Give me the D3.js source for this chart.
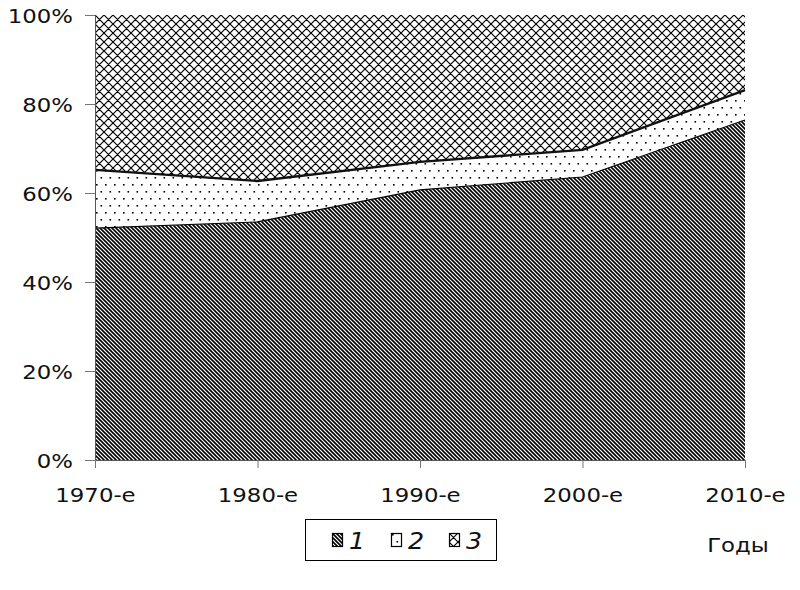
<!DOCTYPE html>
<html>
<head>
<meta charset="utf-8">
<script src="https://cdn.jsdelivr.net/npm/d3@7"></script>
<style>
  body { margin: 0; background: #fff; }
  text { font-family: "DejaVu Sans", Verdana, sans-serif; fill: #111; }
</style>
</head>
<body>
<div id="chart"></div>
<script>
// data: share of each group by decade (%)
var decades = ["1970-е", "1980-е", "1990-е", "2000-е", "2010-е"];
var series1 = [52.1, 53.5, 60.7, 63.6, 76.4];
var series2 = [13.1, 9.2, 6.3, 6.1, 6.7];
var series3 = [34.8, 37.3, 33.0, 30.3, 16.9];
var seriesNames = ["1", "2", "3"];
var yTicks = [0, 20, 40, 60, 80, 100];

var width = 800, height = 590;
var margin = { top: 15, right: 55, bottom: 130, left: 95 };
var innerW = width - margin.left - margin.right,
  innerH = height - margin.top - margin.bottom;

var svg = d3
  .select("#chart")
  .append("svg")
  .attr("width", width)
  .attr("height", height);

// fill patterns
var defs = svg.append("defs");
var p1 = defs.append("pattern").attr("id", "p1")
  .attr("patternUnits", "userSpaceOnUse").attr("width", 4).attr("height", 4);
p1.append("rect").attr("width", 4).attr("height", 4).attr("fill", "#fff");
p1.append("path").attr("d", "M-1,-1L5,5M-1,3L1,5M3,-1L5,1")
  .attr("stroke", "#000").attr("stroke-width", 1.6);

var p2 = defs.append("pattern").attr("id", "p2")
  .attr("patternUnits", "userSpaceOnUse").attr("width", 9).attr("height", 14);
p2.append("rect").attr("width", 9).attr("height", 14).attr("fill", "#fff");
p2.append("rect").attr("x", 1).attr("y", 1).attr("width", 1.6).attr("height", 1.6).attr("fill", "#000");
p2.append("rect").attr("x", 5.5).attr("y", 8).attr("width", 1.6).attr("height", 1.6).attr("fill", "#000");

var p3 = defs.append("pattern").attr("id", "p3")
  .attr("patternUnits", "userSpaceOnUse").attr("width", 9).attr("height", 9);
p3.append("rect").attr("width", 9).attr("height", 9).attr("fill", "#fff");
p3.append("path").attr("d", "M0,0L9,9M9,0L0,9M-1,8L1,10M8,-1L10,1M-1,1L1,-1M8,10L10,8")
  .attr("stroke", "#000").attr("stroke-width", 1.15);

var fills = ["url(#p1)", "url(#p2)", "url(#p3)"];

var g = svg.append("g")
  .attr("transform", "translate(" + margin.left + "," + margin.top + ")");

var x = d3.scalePoint().domain(decades).range([0, innerW]);
var y = d3.scaleLinear().domain([0, 100]).range([innerH, 0]);

var table = decades.map(function (d, i) {
  return { decade: d, s1: series1[i], s2: series2[i], s3: series3[i] };
});
var stacked = d3.stack().keys(["s1", "s2", "s3"])(table);

var area = d3.area()
  .x(function (d) { return x(d.data.decade); })
  .y0(function (d) { return y(d[0]); })
  .y1(function (d) { return y(d[1]); });

g.selectAll(".band")
  .data(stacked)
  .enter()
  .append("path")
  .attr("class", "band")
  .attr("fill", function (d, i) { return fills[i]; })
  .attr("d", area);

// boundary lines between bands
var topLine = d3.line()
  .x(function (d) { return x(d.data.decade); })
  .y(function (d) { return y(d[1]); });
g.append("path").datum(stacked[0]).attr("d", topLine)
  .attr("fill", "none").attr("stroke", "#000").attr("stroke-width", 1.2);
g.append("path").datum(stacked[1]).attr("d", topLine)
  .attr("fill", "none").attr("stroke", "#111").attr("stroke-width", 2.4);

// axes
var fontSize = 19.5, stretch = 1.17;

var yAxis = g.append("g").call(
  d3.axisLeft(y).tickValues(yTicks).tickSize(10).tickSizeOuter(0)
    .tickFormat(function (d) { return d + "%"; }));
yAxis.select(".domain").attr("stroke", "#555");
yAxis.selectAll(".tick line").attr("stroke", "#777");
yAxis.selectAll(".tick text")
  .attr("x", 0).attr("dy", null).attr("dominant-baseline", "central")
  .attr("transform", "translate(-22,1) scale(" + stretch + ",1)")
  .style("font-size", fontSize + "px").style("font-family", "DejaVu Sans")
  .style("fill", "#111");

var xAxis = g.append("g")
  .attr("transform", "translate(0," + innerH + ")")
  .call(d3.axisBottom(x).tickSize(8).tickSizeOuter(0));
xAxis.select(".domain").attr("stroke", "#555");
xAxis.selectAll(".tick line").attr("stroke", "#777");
xAxis.selectAll(".tick text")
  .attr("y", 0).attr("dy", null)
  .attr("transform", "translate(0,42) scale(" + stretch + ",1)")
  .style("font-size", fontSize + "px").style("font-family", "DejaVu Sans")
  .style("fill", "#111");

// axis title
svg.append("text")
  .attr("transform", "translate(738,552) scale(" + stretch + ",1)")
  .attr("text-anchor", "middle")
  .style("font-size", fontSize + "px")
  .text("Годы");

// legend
var legend = svg.append("g");
legend.append("rect")
  .attr("x", 305.5).attr("y", 519.5).attr("width", 191).attr("height", 41)
  .attr("fill", "#fff").attr("stroke", "#000").attr("stroke-width", 1);
var legendX = [332, 391, 449];
var item = legend.selectAll(".item")
  .data(seriesNames)
  .enter()
  .append("g")
  .attr("class", "item")
  .attr("transform", function (d, i) { return "translate(" + legendX[i] + ",533)"; });
item.append("rect")
  .attr("x", 0.5).attr("y", 0.5).attr("width", 10).attr("height", 13)
  .attr("fill", function (d, i) { return fills[i]; })
  .attr("stroke", "#000").attr("stroke-width", 1.2);
item.append("text")
  .attr("transform", "translate(17,16) scale(1.1,1)")
  .style("font-size", "23px").style("font-style", "italic")
  .text(function (d) { return d; });
</script>
</body>
</html>
